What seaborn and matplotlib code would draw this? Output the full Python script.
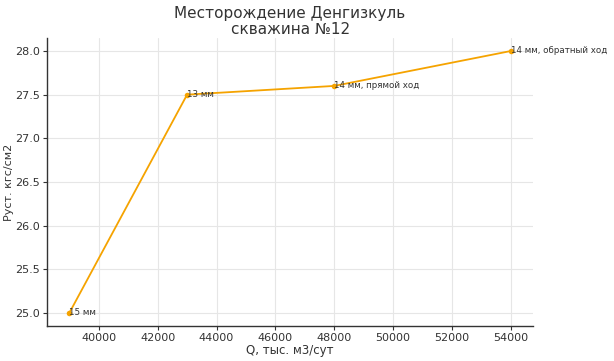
import matplotlib
matplotlib.use("Agg")
import matplotlib.pyplot as plt
import seaborn as sns
import pandas as pd

q_values = [39000, 43000, 48000, 54000]
p_values = [25.0, 27.5, 27.6, 28.0]
labels = ["15 мм", "13 мм", "14 мм, прямой ход", "14 мм, обратный ход"]
x_ticks = [40000, 42000, 44000, 46000, 48000, 50000, 52000, 54000]
y_ticks = [25.0, 25.5, 26.0, 26.5, 27.0, 27.5, 28.0]

sns.set_style("whitegrid", {"grid.color": "#e6e6e6", "axes.edgecolor": "#333333"})
plt.rcParams['font.family'] = ['DejaVu Sans']

df = pd.DataFrame({"Q": q_values, "P": p_values})

fig, ax = plt.subplots(figsize=(6.14, 3.61), dpi=100)
sns.lineplot(data=df, x="Q", y="P", color="#F5A300", marker="o", markersize=4,
             markeredgewidth=0, linewidth=1.3, ax=ax)
for xq, yp, lab in zip(q_values, p_values, labels):
    ax.text(xq, yp, lab, fontsize=6.3, color="#333333", va="center", ha="left")

ax.set_xticks(x_ticks)
ax.set_yticks(y_ticks)
ax.set_xlim(38250, 54750)
ax.set_ylim(24.85, 28.15)
ax.set_title("Месторождение Денгизкуль\nскважина №12", fontsize=11, color="#333333",
             linespacing=1.05, pad=3)
ax.set_xlabel("Q, тыс. м3/сут", fontsize=8.5, color="#333333", labelpad=1)
ax.set_ylabel("Руст. кгс/см2", fontsize=8, color="#333333", labelpad=1)
ax.tick_params(axis="both", labelsize=8, colors="#333333", length=3, width=0.8,
               left=True, bottom=True, pad=2)
for s in ["top", "right"]:
    ax.spines[s].set_visible(False)
for s in ["left", "bottom"]:
    ax.spines[s].set_linewidth(1.0)
ax.grid(True, linewidth=0.8)

fig.subplots_adjust(left=0.077, right=0.868, top=0.895, bottom=0.097)
fig.savefig("out.png", dpi=100)
